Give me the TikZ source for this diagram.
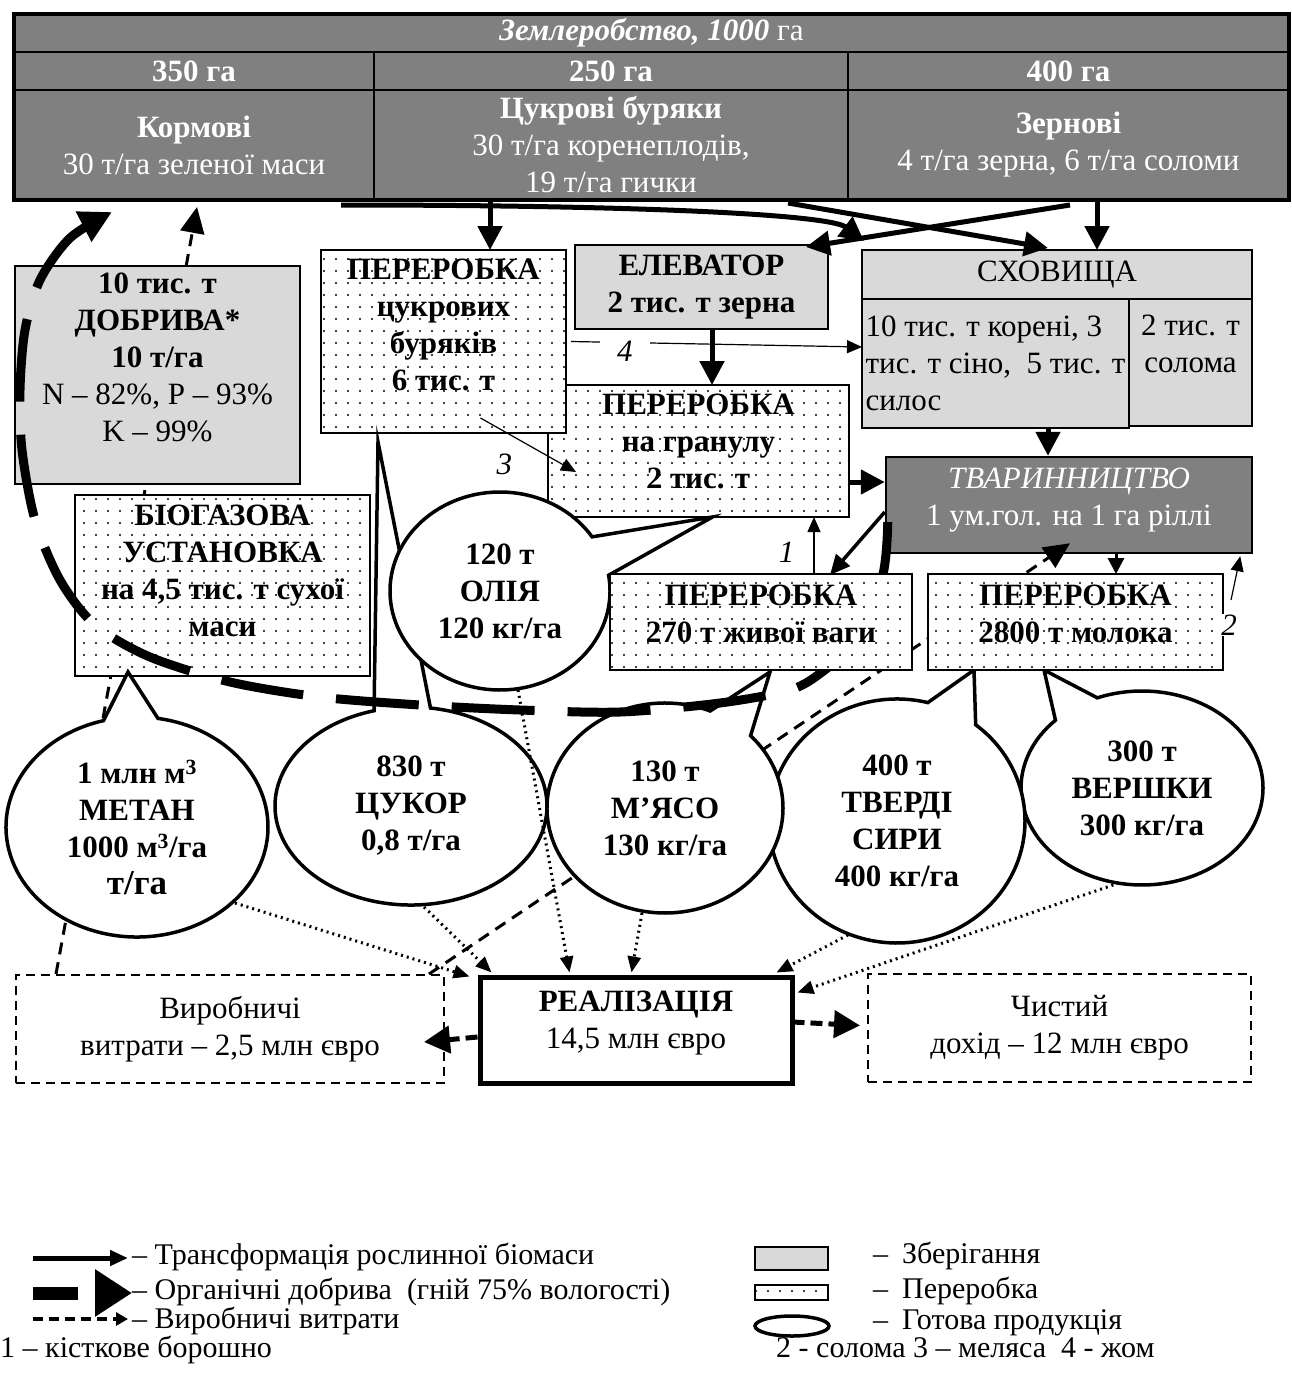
\documentclass[tikz,border=0pt]{standalone}
\usepackage{fontspec}
\setmainfont{Liberation Serif}
\usetikzlibrary{positioning,shapes,shapes.callouts,arrows.meta,patterns.meta,calc}
\definecolor{hdgray}{RGB}{128,128,128}
\definecolor{stgray}{RGB}{217,217,217}
\newcommand{\padbelow}[1]{\rule[-#1]{0pt}{#1}}
\pgfdeclarelayer{front}
\pgfsetlayers{main,front}

\begin{document}
\begin{tikzpicture}
[x=1pt, y=-1pt, node distance=0pt,
 every node/.style={font=\fontsize{31}{37}\selectfont, align=center, inner sep=2pt},
 bf/.style={font=\fontsize{31}{37}\selectfont\bfseries},
 hd/.style={draw, line width=1.5pt, fill=hdgray, text=white, outer sep=0pt, inner ysep=0pt, minimum height=38pt},
 crop/.style={hd, minimum height=110pt},
 store/.style={draw, line width=2.5pt, fill=stgray, outer sep=0pt},
 proc/.style={draw, line width=2.5pt, outer sep=0pt, preaction={fill=white}, pattern={Dots[distance=12pt,radius=1.1pt]}},
 prod/.style={ellipse callout, draw, line width=3.5pt, fill=white, callout pointer arc=24, inner sep=0pt, bf},
 cost/.style={draw, line width=2pt, dash pattern=on 9pt off 6pt, minimum height=108pt},
 tr/.style={line width=5pt, -{Triangle[length=24pt,width=24pt]}},
 aux/.style={line width=1.2pt, -{Triangle[length=15pt,width=13pt]}},
 num/.style={font=\fontsize{31}{37}\selectfont\itshape, inner sep=1pt},
 mn/.style={line width=9pt, dash pattern=on 83pt off 33pt, -{Triangle[length=32pt,width=32pt]}},
 ex/.style={line width=3pt, dash pattern=on 12pt off 8pt, -{Triangle[length=26pt,width=24pt]}},
 sale/.style={line width=3pt, dash pattern=on 2pt off 4pt, -{Triangle[length=16pt,width=13pt]}},
 res/.style={line width=5pt, dash pattern=on 12pt off 6pt, -{Triangle[length=26pt,width=27pt]}},
 lgd/.style={anchor=base west, inner sep=0pt, font=\fontsize{30}{36}\selectfont, text height=20pt, text depth=6pt}]
\useasboundingbox (0,0) rectangle (1291,1375);

\node[hd, minimum width=1275pt, anchor=north west] (zem) at (14,14) {\textbf{\textit{Землеробство, 1000}} га};
\node[hd, bf, minimum width=360pt, anchor=north west] (ha1) at (zem.south west) {350 га};
\node[hd, bf, minimum width=474pt, right=of ha1] (ha2) {250 га};
\node[hd, bf, minimum width=441pt, right=of ha2] (ha3) {400 га};
\node[crop, minimum width=360pt, below=of ha1] (kor) {\textbf{Кормові}\\30 т/га зеленої маси};
\node[crop, minimum width=474pt, below=of ha2] (cuk) {\textbf{Цукрові буряки}\\30 т/га коренеплодів,\\19 т/га гички};
\node[crop, minimum width=441pt, below=of ha3] (zer) {\textbf{Зернові}\\4 т/га зерна, 6 т/га соломи};
\draw[line width=3.5pt] (zem.north west) rectangle (zer.south east);

\node[cost, minimum width=428pt] (vyr) at (230,1029) {Виробничі\\витрати – 2,5 млн євро};
\node[draw, line width=5pt, minimum width=312pt, minimum height=106pt] (real) at (636,1030) {\textbf{РЕАЛІЗАЦІЯ}\\14,5 млн євро\padbelow{20pt}};
\node[cost, minimum width=383pt] (chy) at (1059.5,1027.5) {Чистий\\дохід – 12 млн євро};
\draw[ex] ($(vyr.north west)+(41,0)$) -- ($(kor.south)+(3,7)$);

\node[draw, line width=2.5pt, fill=hdgray, text=white, minimum width=366pt, minimum height=96pt] (tva) at (1069,505) {\textit{ТВАРИННИЦТВО}\\1 ум.гол. на 1 га ріллі\padbelow{16pt}};
\begin{pgfonlayer}{front}
\node[proc, bf, minimum width=302pt, minimum height=96pt] (mya) at (761,622) {ПЕРЕРОБКА\\270 т живої ваги\padbelow{16pt}};
\node[proc, bf, minimum width=295pt, minimum height=96pt] (mol) at (1075.5,622) {ПЕРЕРОБКА\\2800 т молока\padbelow{16pt}};
\node[num, fill=white] (n2) at ($(mol.east)+(6,3)$) {2};
\end{pgfonlayer}
\draw[ex] ($(vyr.north east)+(-16,0)$) -- ($(tva.south)+(1,-11)$);

\node[store, minimum width=285pt, minimum height=218pt] (dob) at (157.5,375) {\textbf{10 тис. т}\\\textbf{ДОБРИВА*}\\\textbf{10 т/га}\\N – 82\%, P – 93\%\\K – 99\%\padbelow{35pt}};
\node[proc, bf, minimum width=295pt, minimum height=181pt] (bio) at (222.5,585.5) {БІОГАЗОВА\\УСТАНОВКА\\на 4,5 тис. т сухої\\маси\padbelow{29pt}};
\node[proc, bf, minimum width=301pt, minimum height=132pt] (gran) at (698.5,451) {ПЕРЕРОБКА\\на гранулу\\2 тис. т\padbelow{19pt}};
\node[proc, bf, minimum width=245pt, minimum height=183pt] (pcb) at (443.5,341.5) {ПЕРЕРОБКА\\цукрових\\буряків\\6 тис. т\padbelow{33pt}};
\node[store, bf, minimum width=253pt, minimum height=84pt] (ele) at (701.5,287) {ЕЛЕВАТОР\\2 тис. т зерна};
\node[store, minimum width=390pt, minimum height=49pt, anchor=north west] (sch) at (862,250) {СХОВИЩА};
\node[store, minimum width=267pt, minimum height=129pt, anchor=north west, align=left] (schA) at (sch.south west) {10 тис. т корені, 3\\тис. т сіно,~ 5 тис. т\\силос};
\node[store, minimum width=123pt, minimum height=127pt, anchor=north west] (schB) at (schA.north east) {2 тис. т\\солома\\~};

\coordinate (p1) at ($(bio.south west)+(53,-4)$);
\coordinate (p2) at ($(pcb.south west)+(57,9)$);
\coordinate (p3) at ($(gran.south)+(14,0)$);
\coordinate (p4) at ($(mya.south)+(9,2)$);
\coordinate (p5) at ($(mol.south west)+(46,0)$);
\coordinate (p6) at ($(mol.south west)+(116,0)$);
\node[prod, minimum width=262pt, minimum height=220pt, callout absolute pointer={(p1)}] (met) at (137,827) {1 млн м\textsuperscript{3}\\МЕТАН\\1000 м\textsuperscript{3}/га\\{\fontsize{35}{37}\selectfont т/га}};
\node[prod, minimum width=272pt, minimum height=198pt, callout absolute pointer={(p2)}] (sug) at (411,806) {830 т\\ЦУКОР\\0,8 т/га};
\node[prod, minimum width=220pt, minimum height=198pt, callout absolute pointer={(p3)}] (oil) at (500,591) {120 т\\ОЛІЯ\\120 кг/га};
\node[prod, minimum width=242pt, minimum height=194pt, callout absolute pointer={(p6)}] (cream) at (1142,788) {300 т\\ВЕРШКИ\\300 кг/га};
\node[prod, minimum width=256pt, minimum height=244pt, callout absolute pointer={(p5)}] (chs) at (897,821) {400 т\\ТВЕРДІ\\СИРИ\\400 кг/га};
\node[prod, minimum width=236pt, minimum height=210pt, callout absolute pointer={(p4)}] (meat) at (665,808) {130 т\\М’ЯСО\\130 кг/га};

\coordinate (m0) at ($(tva.west)+(3,17)$);
\coordinate (m1) at ($(kor.south)+(-82,12)$);
\draw[mn] plot[smooth] coordinates {(m0) (882,578) (850,645) (822,672) (790,690) (720,703) (620,712) (520,710) (420,705) (320,697) (230,682) (150,657) (95,625) (60,580) (35,520) (22,450) (20,390) (25,330) (40,280) (70,238) (m1)};

\coordinate (t2) at ($(pcb.north)+(46.5,0)$);
\coordinate (t5) at ($(sch.north)+(40,0)$);
\coordinate (t6) at ($(gran.north)+(13.5,0)$);
\coordinate (t7) at ($(tva.north)+(-21,0)$);
\coordinate (t8) at ($(gran.east)+(0,31)$);
\coordinate (t11) at ($(mya.north)+(53,0)$);
\draw[tr] ($(kor.south)+(147,5)$) .. controls (650,205) and (830,215) .. ($(sch.north west)+(2,-9)$);
\draw[tr] (cuk.south -| t2) -- (t2);
\draw[tr] ($(cuk.south)+(177,3)$) -- ($(sch.north)+(-9,-2)$);
\draw[tr] ($(zer.south)+(1.5,5)$) -- ($(ele.north east)+(-22,2)$);
\draw[tr] (zer.south -| t5) -- (t5);
\draw[tr] (ele.south -| t6) -- (t6);
\draw[tr] (schA.south -| t7) -- (t7);
\draw[tr] (t8) -- (tva.west |- t8);
\draw[line width=3.5pt, -{Triangle[length=20pt,width=18pt]}] ($(tva.west)+(0,7)$) -- ($(mya.north)+(69,1)$);
\draw[line width=3pt, -{Triangle[length=16pt,width=16pt]}] ($(tva.south)+(47,0)$) -- ($(mol.north)+(40.5,0)$);
\draw[aux] ($(pcb.east)+(5,0)$) -- ($(schA.north west)+(0,48)$) node[num, fill=white, pos=0.185, inner xsep=17pt, inner ysep=3pt, yshift=-9pt] {4};
\draw[aux] ($(pcb.south)+(37,-15)$) -- ($(gran.west)+(28,21)$) node[num, pos=0.25, below=21pt] {3};
\draw[aux] (t11) -- (gran.south -| t11) node[num, pos=0.38, left=18pt] {1};
\draw[aux] ($(mol.north east)+(8,26)$) -- ($(tva.south east)+(-13,2)$);

\draw[sale] ($(met.center)+(98,76)$) -- ($(real.north west)+(-8,2)$);
\draw[sale] ($(sug.center)+(13,101)$) -- ($(real.north west)+(14,-2)$);
\draw[sale] ($(oil.center)+(18,99)$) -- ($(real.north west)+(92,-2)$);
\draw[sale] ($(meat.center)+(-23,105)$) -- ($(real.north west)+(154,-2)$);
\draw[sale] ($(chs.center)+(-49,114)$) -- ($(real.north east)+(-18,-2)$);
\draw[sale] ($(cream.center)+(-23,95)$) -- ($(real.north east)+(3,18)$);
\draw[res] ($(real.west)+(0,7)$) -- ($(vyr.east)+(-21,13)$);
\draw[res] ($(real.east)+(-2,-8)$) -- ($(chy.west)+(-7,-2)$);

\node[lgd] (lg1) at (132,1264) {– Трансформація рослинної біомаси};
\node[lgd] (lg2) at (132,1299) {– Органічні добрива~ (гній 75\% вологості)};
\node[lgd] (lg3) at (132,1328) {– Виробничі витрати};
\node[lgd] (lg4) at (873,1263) {–\hspace{14pt}Зберігання};
\node[lgd] (lg5) at (873,1298) {–\hspace{14pt}Переробка};
\node[lgd] (lg6) at (873,1329) {–\hspace{14pt}Готова продукція};
\node[lgd] (lg7) at (0,1357) {1 – кісткове борошно};
\node[lgd] (lg8) at (776,1357) {2 - солома 3 – меляса~ 4 - жом};
\draw[line width=5pt, -{Triangle[length=18pt,width=15pt]}] ($(lg1.base west)+(-99,-6)$) -- ($(lg1.base west)+(-4,-6)$);
\draw[line width=13pt, dash pattern=on 45pt off 17pt, -{Triangle[length=37pt,width=45pt]}] ($(lg2.base west)+(-99,-6)$) -- ($(lg2.base west)+(0,-6)$);
\draw[line width=4pt, dash pattern=on 10pt off 6pt, -{Triangle[length=12pt,width=13pt]}] ($(lg3.base west)+(-99,-9)$) -- ($(lg3.base west)+(-4,-9)$);
\draw[store] ($(lg4.base west)+(-118,-16)$) rectangle ($(lg4.base west)+(-45,7)$);
\draw[proc] ($(lg5.base west)+(-118,-13)$) rectangle ($(lg5.base west)+(-45,2)$);
\draw[line width=3.5pt] ($(lg6.base west)+(-81,-3)$) ellipse [x radius=37pt, y radius=10pt];
\end{tikzpicture}
\end{document}
